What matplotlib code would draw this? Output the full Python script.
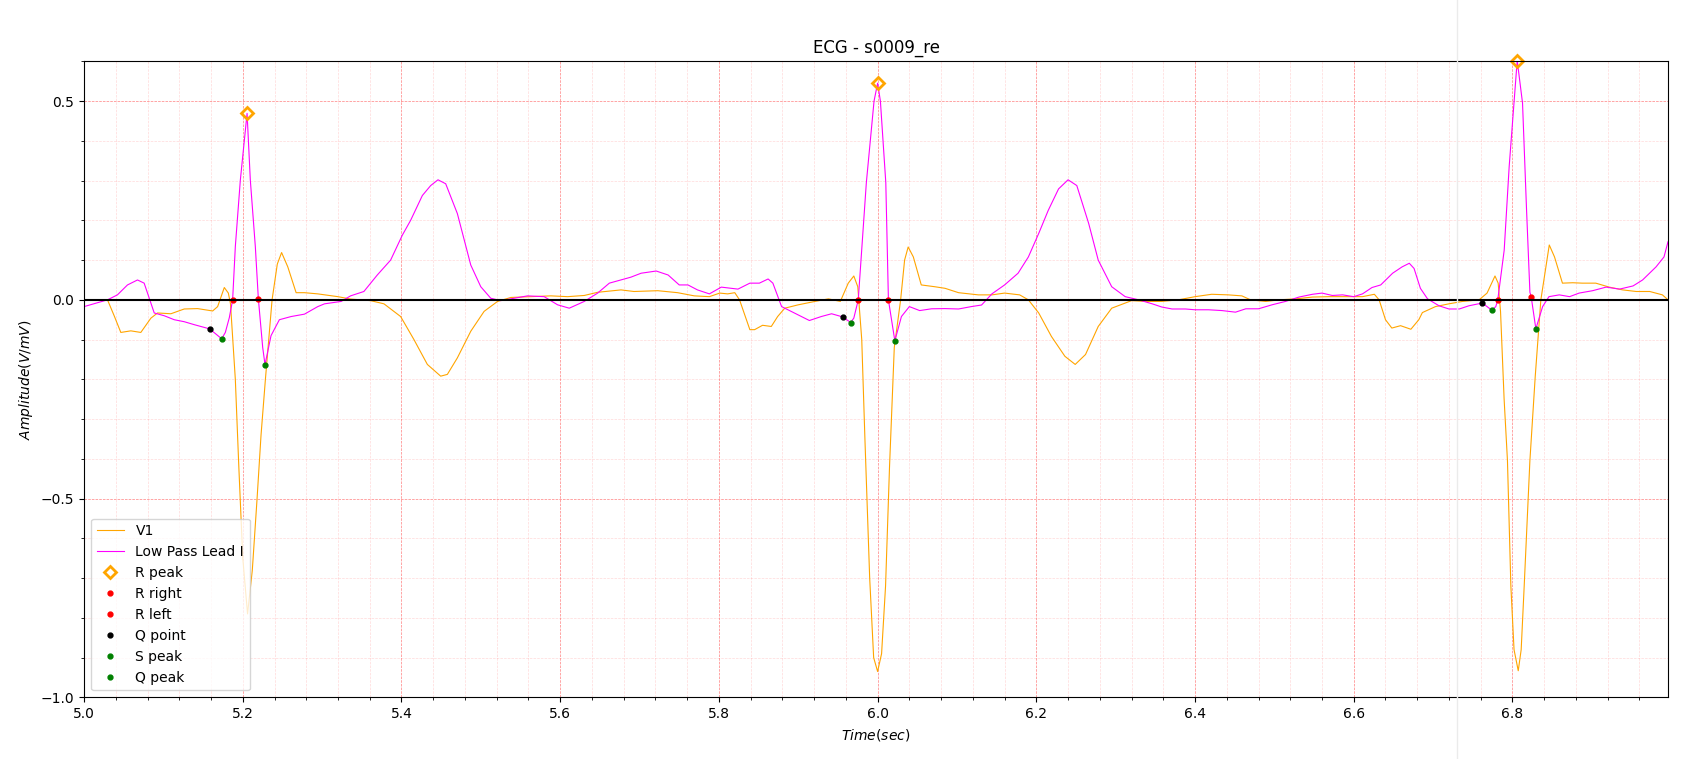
import matplotlib
matplotlib.use("Agg")
import matplotlib.pyplot as plt
from matplotlib.ticker import MultipleLocator, AutoMinorLocator
from matplotlib.lines import Line2D

# Low pass lead I (time in sec, amplitude)
lead_t = [5.000, 5.0295, 5.042, 5.0547, 5.0673, 5.0757, 5.0884, 5.101, 5.1136, 5.1262,
          5.1389, 5.1582, 5.1734, 5.178, 5.183, 5.1872, 5.1906, 5.1969, 5.2054, 5.2095,
          5.2158, 5.2196, 5.2251, 5.228, 5.2356, 5.2461, 5.2609, 5.2777, 5.2945, 5.303,
          5.324, 5.3358, 5.3526, 5.3695, 5.3863, 5.401, 5.4115, 5.4263, 5.4368, 5.446,
          5.4557, 5.4704, 5.4873, 5.4999, 5.5125, 5.5251, 5.542, 5.5588, 5.5798, 5.5967,
          5.6114, 5.6303, 5.6472, 5.6619, 5.6766, 5.689, 5.702, 5.721, 5.736, 5.750,
          5.761, 5.773, 5.788, 5.803, 5.824, 5.839, 5.851, 5.862, 5.868, 5.879,
          5.895, 5.914, 5.929, 5.942, 5.956, 5.966, 5.970, 5.9756, 5.9858, 5.9955,
          6.000, 6.0035, 6.0103, 6.0136, 6.0217, 6.030, 6.040, 6.053, 6.068, 6.085,
          6.102, 6.118, 6.131, 6.144, 6.160, 6.177, 6.190, 6.203, 6.215, 6.228,
          6.240, 6.251, 6.266, 6.278, 6.295, 6.312, 6.329, 6.346, 6.358, 6.371,
          6.388, 6.400, 6.417, 6.434, 6.451, 6.464, 6.480, 6.497, 6.514, 6.531,
          6.548, 6.560, 6.573, 6.586, 6.600, 6.611, 6.623, 6.634, 6.649, 6.661,
          6.670, 6.676, 6.684, 6.693, 6.7075, 6.720, 6.733, 6.745, 6.762, 6.774,
          6.779, 6.7815, 6.7896, 6.7959, 6.806, 6.8127, 6.8177, 6.822, 6.8236, 6.8295,
          6.838, 6.846, 6.859, 6.872, 6.884, 6.901, 6.918, 6.935, 6.952, 6.964,
          6.981, 6.991, 6.996]
lead_v = [-0.017, 0.0, 0.0125, 0.0375, 0.05, 0.042, -0.033, -0.04, -0.05, -0.055,
          -0.0625, -0.073, -0.098, -0.082, -0.045, 0.0, 0.134, 0.301, 0.469, 0.301,
          0.134, 0.003, -0.12, -0.163, -0.09, -0.05, -0.042, -0.036, -0.017, -0.01,
          -0.004, 0.01, 0.021, 0.0625, 0.1, 0.1625, 0.2, 0.2625, 0.2875, 0.302,
          0.292, 0.217, 0.0875, 0.033, 0.004, -0.002, 0.004, 0.01, 0.008, -0.0125,
          -0.021, -0.004, 0.017, 0.042, 0.05, 0.057, 0.067, 0.0725, 0.0625, 0.0375,
          0.0375, 0.025, 0.015, 0.032, 0.027, 0.042, 0.042, 0.0525, 0.042, -0.017,
          -0.033, -0.052, -0.042, -0.035, -0.043, -0.057, -0.046, 0.0, 0.295, 0.5,
          0.545, 0.5, 0.295, 0.0, -0.103, -0.042, -0.017, -0.027, -0.0225, -0.022,
          -0.023, -0.017, -0.013, 0.015, 0.0375, 0.067, 0.108, 0.167, 0.225, 0.279,
          0.302, 0.2875, 0.192, 0.1, 0.033, 0.008, 0.0, -0.01, -0.018, -0.023,
          -0.023, -0.025, -0.025, -0.027, -0.031, -0.0225, -0.0225, -0.0125, -0.004, 0.007,
          0.014, 0.017, 0.011, 0.0125, 0.008, 0.015, 0.031, 0.0375, 0.067, 0.083,
          0.092, 0.079, 0.029, 0.0025, -0.015, -0.023, -0.023, -0.015, -0.008, -0.026,
          -0.017, 0.0, 0.125, 0.336, 0.602, 0.495, 0.23, 0.019, 0.008, -0.073,
          -0.017, 0.008, 0.0125, 0.008, 0.017, 0.023, 0.032, 0.027, 0.035, 0.05,
          0.083, 0.108, 0.146]

# V1 lead
v1_t = [5.000, 5.0295, 5.0379, 5.0463, 5.0589, 5.0715, 5.0842, 5.0926, 5.1094, 5.1262,
        5.143, 5.162, 5.1683, 5.1767, 5.1818, 5.1845, 5.1906, 5.195, 5.200, 5.206,
        5.212, 5.218, 5.223, 5.2285, 5.2369, 5.2435, 5.2489, 5.2567, 5.2672, 5.2777,
        5.2945, 5.3198, 5.3358, 5.361, 5.3779, 5.3989, 5.4157, 5.4326, 5.4494, 5.4578,
        5.4704, 5.4873, 5.5041, 5.521, 5.5378, 5.563, 5.5883, 5.6093, 5.6303, 5.6472,
        5.6766, 5.693, 5.723, 5.748, 5.769, 5.788, 5.801, 5.811, 5.820, 5.826,
        5.839, 5.845, 5.855, 5.866, 5.874, 5.883, 5.900, 5.921, 5.938, 5.953,
        5.963, 5.970, 5.975, 5.980, 5.984, 5.990, 5.995, 6.000, 6.005, 6.010,
        6.015, 6.021, 6.029, 6.034, 6.0385, 6.045, 6.055, 6.072, 6.085, 6.102,
        6.127, 6.144, 6.160, 6.179, 6.190, 6.203, 6.219, 6.236, 6.249, 6.262,
        6.278, 6.295, 6.312, 6.320, 6.337, 6.358, 6.379, 6.400, 6.421, 6.442,
        6.459, 6.470, 6.489, 6.506, 6.527, 6.548, 6.569, 6.590, 6.611, 6.626,
        6.632, 6.640, 6.648, 6.659, 6.672, 6.682, 6.6865, 6.703, 6.720, 6.737,
        6.758, 6.768, 6.778, 6.782, 6.785, 6.7895, 6.7937, 6.798, 6.802, 6.8073,
        6.811, 6.8148, 6.822, 6.8287, 6.8358, 6.8464, 6.853, 6.863, 6.876, 6.888,
        6.905, 6.922, 6.939, 6.956, 6.973, 6.989, 6.996]
v1_v = [0.0, 0.0, -0.04, -0.082, -0.078, -0.082, -0.046, -0.033, -0.035, -0.023,
        -0.022, -0.028, -0.017, 0.031, 0.017, -0.01, -0.2, -0.42, -0.65, -0.79,
        -0.68, -0.50, -0.34, -0.2, 0.0, 0.09, 0.119, 0.083, 0.018, 0.018,
        0.015, 0.008, 0.002, -0.002, -0.01, -0.042, -0.1, -0.1625, -0.192, -0.1875,
        -0.146, -0.079, -0.029, -0.004, 0.006, 0.008, 0.01, 0.008, 0.011, 0.019,
        0.025, 0.021, 0.023, 0.018, 0.01, 0.008, 0.017, 0.015, 0.018, 0.0,
        -0.075, -0.075, -0.064, -0.067, -0.042, -0.021, -0.0125, -0.004, 0.0025, -0.004,
        0.042, 0.06, 0.033, -0.10, -0.35, -0.70, -0.90, -0.935, -0.89, -0.72,
        -0.42, -0.12, 0.0, 0.10, 0.133, 0.108, 0.0375, 0.033, 0.029, 0.018,
        0.0125, 0.0125, 0.017, 0.0125, 0.0, -0.033, -0.092, -0.142, -0.1625, -0.1375,
        -0.067, -0.021, -0.008, -0.002, -0.004, -0.004, 0.0, 0.008, 0.014, 0.0125,
        0.01, 0.0, -0.004, 0.0, 0.0025, 0.007, 0.008, 0.008, 0.008, 0.014,
        0.0, -0.05, -0.071, -0.065, -0.074, -0.05, -0.032, -0.017, -0.01, -0.004,
        0.0, 0.017, 0.06, 0.042, -0.03, -0.25, -0.404, -0.72, -0.88, -0.933,
        -0.88, -0.72, -0.404, -0.193, 0.0, 0.138, 0.108, 0.042, 0.043, 0.042,
        0.042, 0.032, 0.025, 0.021, 0.021, 0.0125, 0.0]

# detected fiducial points
r_peak_t = [5.205, 6.000, 6.806]
r_peak_v = [0.47, 0.545, 0.60]
r_right_t = [5.2196, 6.0136, 6.8236]
r_right_v = [0.003, 0.0, 0.008]
r_left_t = [5.1872, 5.9756, 6.7815]
r_left_v = [0.0, 0.0, 0.0]
q_point_t = [5.1582, 5.956, 6.762]
q_point_v = [-0.073, -0.043, -0.008]
s_peak_t = [5.228, 6.0217, 6.8295]
s_peak_v = [-0.163, -0.103, -0.073]
q_peak_t = [5.1734, 5.966, 6.774]
q_peak_v = [-0.098, -0.057, -0.026]

fig, ax = plt.subplots(figsize=(16.85, 7.59), dpi=100)
fig.subplots_adjust(left=0.0499, right=0.9899, bottom=0.0812, top=0.9192)

ax.plot(v1_t, v1_v, color='orange', linewidth=0.8, label='V1')
ax.plot(lead_t, lead_v, color='magenta', linewidth=0.8, label='Low Pass Lead I')
ax.plot(r_peak_t, r_peak_v, 'D', markerfacecolor='none', markeredgecolor='orange',
        markersize=6, markeredgewidth=2, label='R peak', clip_on=False)
ax.plot(r_right_t, r_right_v, 'o', color='red', markersize=3.5, label='R right')
ax.plot(r_left_t, r_left_v, 'o', color='red', markersize=3.5, label='R left')
ax.plot(q_point_t, q_point_v, 'o', color='black', markersize=3.5, label='Q point')
ax.plot(s_peak_t, s_peak_v, 'o', color='green', markersize=3.5, label='S peak')
ax.plot(q_peak_t, q_peak_v, 'o', color='green', markersize=3.5, label='Q peak')

ax.axhline(0, color='black', linewidth=1.5)

ax.set_xlim(5.0, 6.996)
ax.set_ylim(-1.0, 0.6)
ax.xaxis.set_major_locator(MultipleLocator(0.2))
ax.xaxis.set_minor_locator(AutoMinorLocator(5))
ax.yaxis.set_major_locator(MultipleLocator(0.5))
ax.yaxis.set_minor_locator(AutoMinorLocator(5))
ax.grid(which='major', color='red', linestyle='--', linewidth=0.5, alpha=0.5)
ax.grid(which='minor', color='red', linestyle='--', linewidth=0.5, alpha=0.15)

ax.set_title('ECG - s0009_re')
ax.set_xlabel('$Time (sec)$')
ax.set_ylabel('$Amplitude (V/mV)$')
ax.legend(loc='lower left')

# faint vertical seam visible in the source image
fig.add_artist(Line2D([0.8648, 0.8648], [0, 1], transform=fig.transFigure,
                      color='#ebebeb', linewidth=1, zorder=10))

fig.savefig('out.png', dpi=100)
